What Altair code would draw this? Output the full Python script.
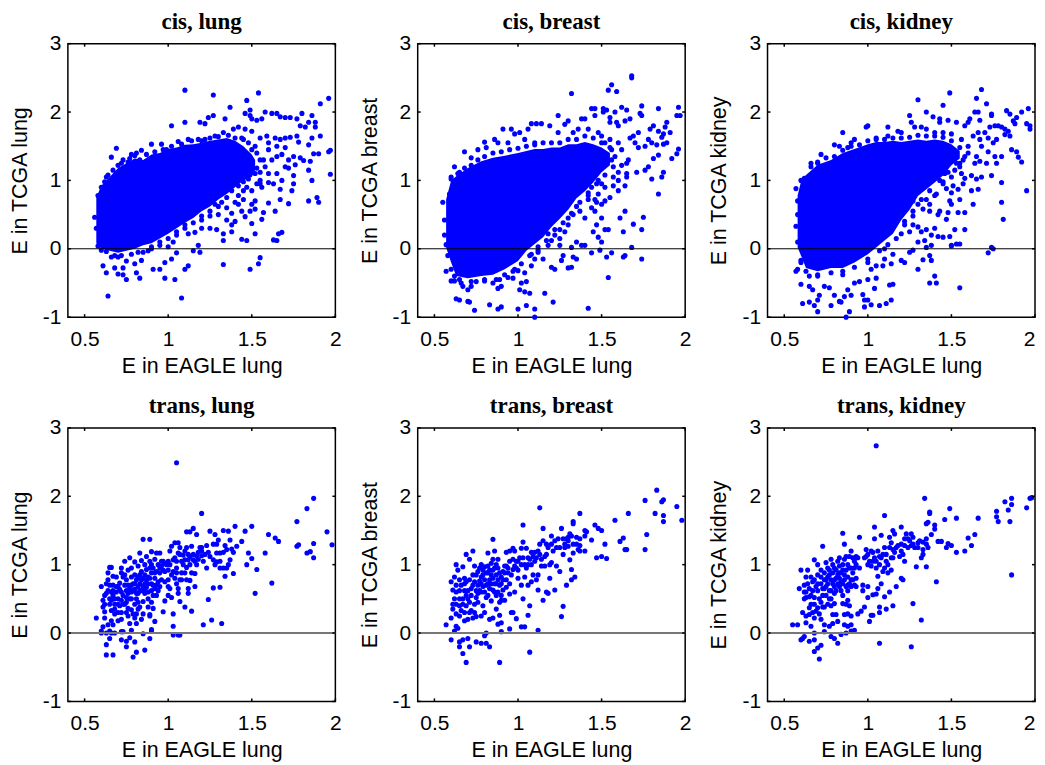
import altair as alt
import pandas as pd

BLUE = "#0000FF"
x_ticks = [0.5, 1, 1.5, 2]
y_ticks = [-1, 0, 1, 2, 3]

core_lung = [(.57,.08,.75),(.6,.0,.92),(.65,-.03,1.05),(.7,-.06,1.18),(.75,-.03,1.25),(.8,.0,1.32),(.85,.05,1.3),(.9,.08,1.38),(.95,.15,1.4),(1.0,.22,1.46),(1.05,.3,1.48),(1.1,.38,1.52),(1.15,.45,1.53),(1.2,.55,1.55),(1.25,.62,1.58),(1.3,.72,1.6),(1.35,.8,1.62),(1.4,.9,1.58),(1.45,1.0,1.5),(1.5,1.05,1.38),(1.52,1.15,1.3)]
core_breast = [(.57,.02,.72),(.6,-.2,1.0),(.63,-.4,1.06),(.7,-.43,1.18),(.78,-.4,1.28),(.85,-.38,1.33),(.92,-.3,1.36),(1.0,-.18,1.4),(1.05,-.03,1.43),(1.1,.07,1.46),(1.15,.17,1.46),(1.2,.32,1.48),(1.25,.44,1.48),(1.3,.57,1.53),(1.35,.74,1.53),(1.4,.84,1.56),(1.45,.97,1.53),(1.5,1.12,1.48),(1.55,1.22,1.4)]
core_kidney = [(.58,.02,.78),(.6,-.1,.98),(.63,-.28,1.08),(.7,-.33,1.23),(.78,-.28,1.3),(.85,-.28,1.4),(.92,-.2,1.46),(1.0,-.08,1.53),(1.05,.02,1.56),(1.1,.12,1.56),(1.15,.22,1.58),(1.2,.42,1.56),(1.25,.57,1.58),(1.3,.77,1.6),(1.35,.87,1.58),(1.4,.97,1.6),(1.45,1.07,1.58),(1.5,1.22,1.53),(1.55,1.32,1.43)]

cis_lung = [(1.1,2.32),(1.27,2.25),(1.54,2.28),(1.47,2.17),(1.96,2.2),(1.91,2.12),(1.37,2.07),(1.49,2.03),(1.46,1.98),(1.49,1.95),(1.27,1.95),(1.24,1.92),(1.34,1.9),(1.1,1.85),(1.19,1.85),(1.22,1.83),(1.02,1.8),(1.5,1.9),(1.53,1.88),(1.56,1.9),(1.58,2.0),(1.62,1.98),(1.65,1.98),(1.67,1.93),(1.7,1.92),(1.73,1.92),(1.77,1.9),(1.8,1.98),(1.86,1.95),(1.79,1.8),(1.82,1.78),(1.84,1.85),(1.88,1.85),(1.88,1.78),(1.91,1.65),(1.84,1.52),(1.86,1.62),(1.77,1.65),(1.78,1.56),(1.7,1.62),(1.73,1.63),(1.67,1.6),(1.64,1.62),(1.59,1.65),(1.6,1.55),(1.96,1.42),(1.97,1.44),(1.97,1.09),(1.87,1.39),(1.9,1.39),(1.85,1.28),(1.81,1.29),(1.79,1.33),(1.84,1.15),(1.86,1.0),(1.75,1.07),(1.75,.95),(1.74,.85),(1.84,.7),(1.89,.75),(1.9,.68),(1.72,.66),(1.67,.72),(1.67,.87),(1.6,.97),(1.63,.95),(1.68,1.0),(1.72,1.18),(1.76,1.23),(1.55,1.0),(1.56,.9),(1.6,.67),(1.64,.55),(1.57,.53),(1.56,.43),(1.5,.37),(1.52,.22),(1.47,.12),(1.44,.14),(1.63,.13),(1.65,.12),(1.66,.22),(1.68,.24),(1.55,-.13),(1.54,-.22),(1.49,-.3),(1.33,-.23),(1.12,-.25),(1.1,-.3),(1.08,-.72),(1.04,-.45),(.98,-.43),(1.02,-.15),(.98,-.2),(1.05,-.06),(.95,-.3),(.91,-.3),(.83,-.43),(.81,-.35),(.75,-.45),(.73,-.38),(.7,-.37),(.68,-.28),(.63,-.35),(.61,-.25),(.64,-.69),(.73,-.28),(.75,-.18),(.8,-.22),(.84,-.17),(.88,-.03),(.7,-.12),(.66,-.12),(.69,1.47),(.66,1.34),(.63,1.05),(.72,1.25),(.76,1.27),(.78,1.38),(.81,1.4),(.84,1.44),(.9,1.53),(.96,1.53),(.99,1.45),(1.06,1.57),(1.12,1.6),(1.18,1.6),(1.22,1.6),(1.33,1.7),(1.28,1.65),(1.42,1.78),(1.39,1.75),(1.46,1.75),(1.5,1.72),(1.55,1.62),(1.3,.5),(1.35,.42),(1.38,.35),(1.4,.4),(1.29,.28),(1.33,.22),(1.33,.12),(1.38,.25),(1.25,.3),(1.2,.3),(1.16,.24),(1.12,.22),(1.18,.05),(1.15,-.03),(1.19,-.05),(1.03,.1),(1,.03),(1.38,.52),(1.42,.65),(1.44,.55),(1.46,.47),(1.49,.55),(1.5,.65),(1.52,.58),(1.52,.7),(1.45,.72),(1.42,.78),(1.47,.9),(1.5,.85),(1.53,.95),(1.6,1.1),(1.65,1.1),(1.62,1.3),(1.65,1.35),(1.68,1.38),(1.7,1.48),(1.65,1.5),(1.6,1.45),(1.57,1.3),(1.53,1.18),(1.55,1.12),(1.72,1.3),(1.75,1.35),(1.7,1.2),(1.58,1.2),(1.55,.95),(1.45,1.6),(1.52,1.5),(1.45,.85),(1.4,.68),(1.35,.6),(1.3,.62),(1.25,.48),(1.2,.42),(1.1,.3),(1.05,.2),(.95,.05),(.9,.0),(.85,-.05),(.57,.3),(.56,.46),(.58,.78),(.6,.9),(.58,.04),(.6,-.02)]
edge_lung = [(.62,.98),(.64,1.08),(.67,1.15),(.7,1.22),(.73,1.3),(.77,1.32),(.8,1.36),(.83,1.3),(.87,1.38),(.92,1.42),(.97,1.45),(1.02,1.5),(1.08,1.53),(1.14,1.58),(1.2,1.58),(1.25,1.62),(1.3,1.64),(1.36,1.66),(1.4,1.62),(1.44,1.62),(1.48,1.55),(1.5,1.45),(1.53,1.4),(1.55,1.3),(1.52,1.1),(1.48,1.02),(1.45,.98),(1.42,.92),(1.38,.85),(1.35,.75),(1.32,.68),(1.28,.65),(1.25,.55),(1.2,.48),(1.15,.38),(1.1,.35),(1.05,.25),(1,.15),(.95,.1),(.9,.03),(.82,-.05),(.78,-.08),(.72,-.1),(.68,-.1),(.63,-.04)]

cis_breast = [(1.68,2.53),(1.68,2.5),(1.56,2.4),(1.54,2.32),(1.59,2.3),(1.32,2.27),(1.74,2.09),(1.62,2.07),(1.65,2.03),(1.96,2.07),(1.95,1.95),(1.97,1.95),(1.84,2.05),(1.44,2.05),(1.46,2.05),(1.51,2.05),(1.53,2.03),(1.51,2.0),(1.58,2.0),(1.55,1.92),(1.55,1.85),(1.73,1.98),(1.74,1.95),(1.67,1.9),(1.64,1.87),(1.59,1.85),(1.6,1.8),(1.46,1.95),(1.4,1.9),(1.38,1.9),(1.24,1.95),(1.3,1.87),(1.28,1.82),(1.24,1.7),(1.19,1.8),(1.14,1.83),(1.11,1.83),(1.08,1.83),(1.06,1.75),(1.01,1.7),(.96,1.75),(.91,1.75),(.98,1.68),(.86,1.6),(.88,1.55),(.8,1.56),(.68,1.42),(.62,1.2),(.6,1.05),(.72,1.33),(.76,1.45),(.81,1.48),(.94,1.55),(1.04,1.6),(1.1,1.55),(1.89,1.85),(1.88,1.78),(1.84,1.72),(1.87,1.68),(1.91,1.7),(1.86,1.63),(1.89,1.55),(1.87,1.53),(1.81,1.8),(1.79,1.75),(1.78,1.6),(1.72,1.7),(1.69,1.65),(1.67,1.62),(1.7,1.55),(1.72,1.48),(1.76,1.5),(1.8,1.55),(1.83,1.52),(1.96,1.46),(1.95,1.39),(1.92,1.32),(1.84,1.37),(1.81,1.32),(1.78,1.2),(1.76,1.15),(1.8,1.02),(1.87,1.12),(1.86,1.05),(1.84,.8),(1.71,1.12),(1.65,1.1),(1.64,.92),(1.6,1.0),(1.6,.85),(1.57,.92),(1.55,.75),(1.52,.7),(1.5,.65),(1.74,.28),(1.75,.46),(1.69,.36),(1.64,.55),(1.61,.45),(1.63,.25),(1.68,.02),(1.74,-.15),(1.63,-.12),(1.64,-.1),(1.56,-.06),(1.53,-.12),(1.54,-.42),(1.42,-.87),(1.21,-.78),(1.16,-.65),(1.1,-.88),(1.1,-1.0),(1.05,-.83),(1,-.88),(.9,-.85),(.88,-.88),(.83,-.82),(.74,-.9),(.7,-.77),(.71,-.78),(.63,-.73),(.65,-.75),(1.04,-.63),(1.01,-.6),(1.07,-.65),(1.22,-.3),(1.2,-.27),(1.15,-.15),(1.08,-.25),(1.05,-.48),(1.02,-.5),(1.04,-.35),(.97,-.43),(.9,-.55),(.89,-.45),(.88,-.58),(.8,-.47),(.72,-.55),(.7,-.6),(.67,-.55),(.66,-.5),(.6,-.47),(.57,-.33),(.62,-.47),(.98,-.3),(1.1,-.15),(1.12,-.05),(1.27,-.1),(1.3,-.28),(1.32,-.27),(1.33,-.12),(1.35,-.15),(1.26,-.17),(1.44,-.06),(1.49,-.02),(1.5,.1),(1.48,.17),(1.52,.28),(1.54,.28),(1.45,.25),(1.47,.35),(1.5,.45),(1.46,.55),(1.44,.6),(1.4,.45),(1.37,.55),(1.33,.5),(1.3,.35),(1.28,.25),(1.35,.1),(1.38,.05),(1.32,.02),(1.4,.05),(1.25,.15),(1.22,.2),(1.25,.05),(1.18,.22),(1.18,.05),(1.48,.8),(1.46,.72),(1.47,.68),(1.42,.72),(1.44,.9),(1.5,.95),(1.52,.9),(1.57,1.05),(1.6,1.12),(1.65,1.05),(1.62,1.22),(1.65,1.25),(1.66,1.3),(1.62,1.45),(1.6,1.55),(1.55,1.6),(1.5,1.65),(1.48,1.7),(1.42,1.75),(1.36,1.75),(1.33,1.7),(1.52,1.55),(1.56,1.45),(1.56,1.3),(.55,.68),(.56,.42),(.56,.2),(.57,.06),(.58,-.1),(.59,.8),(.65,1.12),(1.12,-.02),(1.08,-.08),(1.0,-.32),(.94,-.42),(.85,-.5),(.75,-.48),(1.2,.12),(1.25,.28),(1.3,.45),(1.35,.62),(1.42,.82),(1.48,1.0)]
edge_breast = [(.6,1.02),(.64,1.1),(.68,1.18),(.72,1.22),(.76,1.3),(.8,1.35),(.85,1.4),(.9,1.42),(.95,1.45),(1,1.47),(1.05,1.5),(1.1,1.52),(1.15,1.55),(1.2,1.55),(1.25,1.55),(1.3,1.6),(1.35,1.6),(1.4,1.65),(1.45,1.62),(1.5,1.55),(1.55,1.48),(1.58,1.35),(1.57,1.2),(1.52,1.08),(1.47,.95),(1.42,.78),(1.37,.68),(1.32,.52),(1.27,.38),(1.22,.28),(1.17,.12),(1.12,.03),(1.07,-.1),(1.02,-.22),(.97,-.33),(.92,-.38),(.87,-.45),(.8,-.45),(.72,-.48),(.65,-.45),(.6,-.3),(.62,-.4)]

cis_kidney = [(1.68,2.33),(1.49,2.28),(1.65,2.2),(1.3,2.18),(1.71,2.12),(1.45,2.1),(1.35,2.0),(1.25,1.95),(1.39,1.93),(1.43,1.9),(1.43,1.85),(1.48,1.88),(1.53,1.85),(1.26,1.85),(1.58,1.8),(1.64,2.0),(1.66,2.0),(1.67,1.88),(1.6,1.85),(1.61,1.9),(1.74,1.97),(1.74,1.95),(1.83,2.02),(1.85,1.97),(1.89,1.92),(1.92,2.0),(1.96,2.05),(1.87,1.87),(1.88,1.83),(1.95,1.83),(1.97,1.8),(1.97,1.75),(1.76,1.8),(1.73,1.78),(1.78,1.8),(1.8,1.78),(1.82,1.75),(1.84,1.72),(1.85,1.65),(1.82,1.67),(1.7,1.7),(1.66,1.7),(1.63,1.65),(1.67,1.6),(1.72,1.62),(1.75,1.55),(1.77,1.6),(1.86,1.45),(1.89,1.42),(1.9,1.34),(1.92,1.27),(1.95,.85),(1.81,.43),(1.8,.68),(1.8,.97),(1.74,1.07),(1.71,1.25),(1.76,1.35),(1.77,1.25),(1.8,1.35),(1.72,1.42),(1.68,1.5),(1.65,1.35),(1.67,1.28),(1.64,1.25),(1.68,1.05),(1.65,1.02),(1.66,.87),(1.62,.85),(1.62,1.07),(1.58,1.03),(1.56,1.1),(1.57,.95),(1.54,.87),(1.51,.92),(1.5,.82),(1.47,.88),(1.49,.7),(1.5,.65),(1.55,.72),(1.63,.65),(1.58,.53),(1.54,.53),(1.48,.53),(1.47,.43),(1.58,.28),(1.52,.28),(1.49,.18),(1.55,.07),(1.53,.07),(1.5,.04),(1.5,.05),(1.72,-.06),(1.74,.02),(1.75,0.0),(1.55,-.57),(1.37,-.5),(1.4,-.4),(1.41,-.5),(1.3,-.3),(1.38,-.17),(1.37,-.1),(1.33,-.16),(1.2,-.17),(1.22,-.2),(1.13,-.53),(1.15,-.52),(1.14,-.75),(1.11,-.8),(1.07,-.83),(1.02,-.82),(.98,-.75),(1.0,-.75),(.98,-.85),(.97,-.67),(1.04,-.58),(1.0,-.45),(1.05,-.43),(.89,-.92),(.87,-1.0),(.83,-.77),(.84,-.78),(.78,-.83),(.7,-.92),(.68,-.83),(.65,-.78),(.61,-.8),(.6,-.52),(.65,-.55),(.67,-.6),(.71,-.68),(.7,-.75),(.74,-.55),(.77,-.57),(.8,-.68),(.86,-.7),(.88,-.6),(.9,-.68),(.92,-.5),(.95,-.48),(1.02,-.3),(1.05,-.25),(1.09,-.25),(1.1,-.15),(1.14,-.22),(1.15,-.08),(.57,-.33),(.58,-.3),(.65,-.4),(1.25,-.05),(1.27,-.02),(1.3,.1),(1.34,.12),(1.32,.25),(1.3,.32),(1.27,.35),(1.22,.35),(1.25,.25),(1.35,.28),(1.38,.2),(1.4,.3),(1.42,.18),(1.45,.17),(1.38,.05),(1.35,.02),(1.42,.5),(1.43,.55),(1.37,.55),(1.33,.58),(1.3,.65),(1.27,.7),(1.37,.65),(1.4,.78),(1.41,.8),(1.45,.95),(1.5,1.05),(1.52,1.15),(1.46,1.1),(1.55,1.2),(1.57,1.3),(1.6,1.4),(1.6,1.5),(1.56,1.6),(1.5,1.68),(1.45,1.7),(1.4,1.7),(1.35,1.75),(1.32,1.78),(1.28,1.78),(1.2,1.7),(1.18,1.72),(1.12,1.78),(1.12,1.65),(1.05,1.62),(.99,1.78),(1.0,1.8),(.92,1.6),(.9,1.55),(.85,1.7),(.88,1.48),(.83,1.5),(.8,1.52),(.72,1.38),(.7,1.25),(.66,1.25),(.62,1.03),(.57,.88),(.58,.5),(.57,.33),(.58,.7),(.58,.1),(.6,-.2),(.7,-.4),(.85,-.38),(1.0,-.2),(1.1,.0),(1.2,.22),(1.27,.48),(1.35,.72),(1.45,.98),(1.53,1.25)]
edge_kidney = [(.6,1.0),(.63,1.03),(.66,1.2),(.7,1.27),(.75,1.33),(.8,1.35),(.85,1.44),(.9,1.5),(.95,1.52),(1,1.58),(1.05,1.6),(1.1,1.6),(1.15,1.62),(1.2,1.62),(1.25,1.63),(1.3,1.66),(1.35,1.65),(1.4,1.65),(1.45,1.63),(1.5,1.58),(1.55,1.48),(1.58,1.35),(1.55,1.25),(1.48,1.12),(1.43,1.0),(1.37,.85),(1.32,.72),(1.27,.55),(1.22,.4),(1.17,.15),(1.12,.06),(1.07,-.03),(1.0,-.15),(.92,-.27),(.85,-.33),(.78,-.35),(.7,-.38),(.63,-.33),(.6,-.17)]

trans_lung = [(1.05,2.49),(1.2,1.75),(1.87,1.97),(1.83,1.82),(1.77,1.63),(1.95,1.48),(1.98,1.29),(1.87,1.31),(1.78,1.29),(1.77,1.27),(1.85,1.19),(1.83,1.17),(1.87,1.1),(1.66,1.34),(1.64,1.39),(1.6,1.44),(1.58,1.17),(1.5,1.56),(1.46,1.49),(1.4,1.56),(1.48,1.17),(1.5,1.09),(1.47,1.0),(1.53,.93),(1.62,.73),(1.52,.58),(1.32,.14),(1.26,.19),(1.21,.12),(1.24,.49),(1.27,.66),(1.31,.67),(1.34,.83),(1.39,.87),(1.44,1.34),(1.41,1.27),(1.37,1.36),(1.39,1.18),(1.33,1.5),(1.36,1.49),(1.25,1.49),(1.28,1.44),(1.15,1.53),(1.13,1.48),(1.11,1.48),(1.17,1.44),(1.3,1.36),(1.29,1.3),(1.27,1.3),(1.23,1.28),(1.34,1.28),(1.38,1.23),(1.35,1.22),(1.33,1.18),(1.31,1.17),(1.29,1.17),(1.37,1.07),(1.36,1.0),(1.31,1.05),(1.29,1.04),(1.27,1.07),(1.28,1.0),(1.33,.95),(1.31,.95),(1.35,.95),(1.23,.95),(1.2,1.25),(1.2,1.2),(1.2,1.13),(1.21,1.05),(1.17,1.0),(1.16,1.05),(1.15,1.15),(1.14,1.27),(1.11,1.25),(1.1,1.2),(1.09,1.14),(1.07,1.25),(1.04,1.32),(1.06,1.32),(1.02,1.27),(1.01,1.2),(1.04,1.1),(1.07,1.15),(1.12,1.07),(1.13,1.0),(1.11,.96),(1.14,.88),(1.16,.87),(1.13,.77),(1.11,.78),(1.16,.68),(1.12,.65),(1.12,.58),(1.1,.38),(1.14,.32),(1.07,.46),(1.06,.58),(1.06,.65),(1.05,.72),(1.04,.8),(1.02,.85),(1.07,.78),(1.08,.88),(1.05,.95),(1.0,.92),(1.0,.78),(.98,.75),(1.01,.65),(1.0,.55),(.98,.47),(1.02,.52),(1.03,.28),(1.03,.1),(1.03,-.03),(1.07,-.03),(1.06,-.03),(.97,.31),(.92,.17),(.89,.27),(.9,.05),(.9,.03),(.89,-.08),(.85,-.01),(.86,-.25),(.81,-.28),(.8,-.13),(.79,-.35),(.75,-.2),(.75,-.12),(.77,-.07),(.72,-.1),(.67,-.32),(.63,-.32),(.63,-.17),(.65,-.08),(.6,.03),(.6,.0),(.61,.09),(.63,.0),(.65,.03),(.66,.0),(.68,.0),(.72,.02),(.73,.02),(.78,.04),(.57,.22),(.6,.68),(.62,.22),(.61,.48),(.61,.38),(.62,.31),(.63,.58),(.63,.72),(.64,.88),(.65,.96),(.66,.96),(.65,.5),(.65,.42),(.64,.12),(.67,.83),(.67,.7),(.67,.62),(.67,.55),(.66,.18),(.67,.12),(.68,.35),(.69,.82),(.69,.68),(.69,.6),(.7,.5),(.7,.3),(.7,.18),(.71,.73),(.71,.64),(.71,.4),(.72,.95),(.72,.88),(.72,.6),(.72,.2),(.73,.55),(.74,.85),(.74,1.05),(.74,.7),(.74,.42),(.75,.3),(.75,.62),(.76,.92),(.76,.58),(.77,1.1),(.77,.5),(.77,.14),(.78,.95),(.78,.7),(.78,.6),(.78,.34),(.8,1.04),(.8,.85),(.8,.64),(.8,.42),(.8,.22),(.81,.5),(.81,.28),(.81,.14),(.82,.98),(.82,.82),(.82,.58),(.83,1.17),(.83,.72),(.83,.38),(.84,1.06),(.84,.9),(.84,.62),(.84,.2),(.85,1.37),(.85,.8),(.85,.46),(.85,.28),(.86,1.0),(.86,.72),(.86,.58),(.87,1.12),(.87,.93),(.87,.67),(.88,.82),(.88,.5),(.88,.38),(.89,1.37),(.89,1.05),(.89,.25),(.9,1.19),(.9,.88),(.9,.72),(.9,.62),(.9,.45),(.91,.95),(.91,.36),(.92,1.08),(.92,.8),(.92,.65),(.93,1.17),(.93,.9),(.93,.55),(.94,1.0),(.94,.75),(.95,1.17),(.95,.88),(.96,.78),(.96,.98),(.97,1.05),(.98,.9),(.99,1.0)]
more_trans_lung = [(.62,.55),(.62,.42),(.64,.62),(.64,.78),(.65,.7),(.66,.6),(.66,.48),(.66,.33),(.68,.5),(.68,.42),(.68,.28),(.7,.68),(.7,.42),(.72,.48),(.72,.3),(.73,.42),(.73,.82),(.75,.52),(.75,.45),(.75,.78),(.76,.7),(.76,.36),(.76,.25),(.77,.65),(.78,.5),(.78,.82),(.79,.62),(.79,.72),(.79,.28),(.8,.72),(.81,.58),(.81,.78),(.82,.68),(.82,.45),(.82,.35),(.83,.62),(.83,.85),(.84,.78),(.85,.68),(.86,.85),(.86,.65),(.87,.78),(.88,.6),(.88,.72),(.89,.8),(.89,.95),(.9,1.0),(.91,.7),(.91,.55),(.92,.88),(.93,.7),(.94,.62),(.95,.95),(.96,1.05),(.97,.92),(.98,1.02),(1.0,1.05),(1.01,1.0),(1.03,1.07),(1.05,1.05),(1.06,1.17),(1.08,1.05),(1.09,1.0),(1.1,1.07),(1.12,1.15),(1.13,1.12),(1.15,1.07),(1.17,1.13),(1.18,1.08),(1.18,1.18),(1.19,1.25),(1.22,1.15),(1.24,1.18),(1.25,1.12),(1.05,.88),(1.03,.9),(1.1,.88),(1.08,.78),(.95,.68),(1.0,.68)]

trans_breast = [(1.13,1.83),(1.83,2.09),(1.76,1.94),(1.86,1.92),(1.87,1.95),(1.95,1.85),(1.98,1.65),(1.82,1.75),(1.87,1.72),(1.87,1.63),(1.66,1.75),(1.58,1.65),(1.37,1.75),(1.33,1.63),(1.33,1.6),(1.46,1.58),(1.48,1.53),(1.5,1.5),(1.4,1.5),(1.41,1.48),(1.77,1.44),(1.76,1.22),(1.63,1.39),(1.61,1.34),(1.64,1.22),(1.52,1.3),(1.44,1.36),(1.4,1.42),(1.37,1.38),(1.35,1.4),(1.31,1.45),(1.26,1.53),(1.15,1.53),(1.03,1.58),(.85,1.37),(.73,1.2),(.69,1.15),(.71,1.08),(.63,1.0),(.6,.75),(.57,.12),(.6,.22),(.6,-.1),(.62,.03),(.63,.1),(.64,.07),(.65,-.13),(.65,-.2),(.67,-.1),(.67,-.3),(.69,-.43),(.71,-.2),(.7,-.08),(.75,-.13),(.78,-.15),(.81,-.15),(.83,-.2),(.89,-.43),(1.07,-.28),(.8,-.04),(.81,.0),(.9,.02),(.95,.06),(.88,.13),(.9,.15),(.89,.26),(.96,.3),(.97,.3),(.99,.21),(1.02,.09),(1.04,.09),(1.12,.04),(1.06,.26),(1.07,.4),(1.03,.5),(.98,.6),(.95,.57),(.93,.67),(.92,.48),(.9,.48),(.87,.35),(.83,.2),(.85,.22),(.8,.3),(.78,.25),(.75,.24),(.73,.22),(.7,.2),(.68,.18),(.65,.25),(.63,.28),(.61,.35),(.61,.42),(.62,.5),(.61,.63),(.63,.7),(.62,.82),(.64,.92),(.65,.78),(.67,.97),(.68,.8),(.68,.72),(.7,.62),(.7,.5),(.69,.4),(.72,.33),(.72,.55),(.73,.7),(.73,.85),(.74,.98),(.75,.62),(.76,.45),(.76,.9),(.77,.76),(.78,1.0),(.78,.6),(.79,.4),(.79,.85),(.8,.97),(.81,.7),(.82,.55),(.82,1.17),(.82,.88),(.83,.78),(.84,.47),(.84,1.02),(.85,.63),(.85,.92),(.86,1.2),(.86,.72),(.87,.85),(.87,.55),(.88,.95),(.88,1.08),(.89,.7),(.89,.45),(.9,.82),(.91,.63),(.91,.9),(.92,.98),(.93,.78),(.93,1.18),(.94,.88),(.95,1.2),(.95,.72),(.97,.93),(.97,1.24),(.98,1.2),(.99,1.05),(.99,.95),(1.0,.8),(1.02,.7),(1.01,1.1),(1.02,1.24),(1.03,1.33),(1.05,1.24),(1.06,1.1),(1.05,.95),(1.04,.82),(1.06,.7),(1.08,.75),(1.09,.85),(1.08,1.0),(1.08,1.18),(1.1,1.05),(1.11,.78),(1.12,.63),(1.12,.85),(1.12,1.2),(1.13,1.3),(1.14,1.08),(1.15,1.35),(1.15,.48),(1.17,1.15),(1.16,.98),(1.18,1.25),(1.18,.58),(1.17,.6),(1.19,.8),(1.2,1.42),(1.2,1.03),(1.21,1.2),(1.22,1.35),(1.23,.98),(1.22,.63),(1.25,.9),(1.24,1.38),(1.27,1.15),(1.28,1.25),(1.29,1.38),(1.26,.24),(1.27,.39),(1.29,.7),(1.32,.78),(1.32,.93),(1.34,.82),(1.31,1.07),(1.33,1.17),(1.3,1.27),(1.33,1.3),(1.37,1.28),(1.37,1.2),(1.4,1.2),(1.47,1.1),(1.5,1.12),(1.53,1.09),(1.65,1.22)]
more_trans_breast = [(.63,.6),(.63,.42),(.65,.62),(.65,.5),(.65,.4),(.66,.7),(.66,.33),(.67,.5),(.67,.42),(.68,.62),(.68,.3),(.69,.75),(.69,.55),(.71,.78),(.71,.45),(.71,.3),(.72,.65),(.74,.75),(.74,.42),(.74,.3),(.75,.85),(.75,.52),(.76,.7),(.76,.58),(.77,.95),(.77,.62),(.78,.72),(.78,.82),(.79,.92),(.79,.68),(.8,.78),(.8,.6),(.81,.88),(.81,.52),(.82,.98),(.82,.72),(.83,.65),(.83,.92),(.84,.85),(.84,.72),(.85,.8),(.85,1.08),(.86,.95),(.86,.6),(.87,.72),(.87,1.0),(.88,.78),(.88,.6),(.89,.88),(.9,.72),(.9,.55),(.91,.78),(.92,.88),(.93,.98),(.94,.95),(.95,1.05),(.96,.85),(.97,1.08),(.98,.98),(1.0,1.05),(1.0,.92),(1.02,1.0),(1.03,1.1),(1.04,1.0),(1.06,1.0),(1.07,1.08),(1.09,1.12),(1.1,1.18),(1.11,1.1),(1.13,1.15),(1.14,.98),(1.16,1.12),(1.17,1.3),(1.19,1.0),(1.2,1.3),(1.23,1.25),(1.25,1.25),(1.27,1.38),(1.28,1.3),(1.3,1.35),(1.3,1.4),(1.32,1.42),(1.35,1.3),(1.36,1.22)]

trans_kidney = [(1.05,2.74),(1.34,1.97),(1.86,1.97),(1.97,1.97),(1.98,1.98),(1.82,1.92),(1.95,1.83),(1.86,1.88),(1.84,1.8),(1.77,1.78),(1.77,1.7),(1.78,1.63),(1.85,1.63),(1.66,1.68),(1.53,1.68),(1.49,1.82),(1.46,1.66),(1.37,1.77),(1.37,1.75),(1.36,1.62),(1.35,1.6),(1.4,1.58),(1.4,1.52),(1.38,1.44),(1.35,1.38),(1.42,1.34),(1.44,1.34),(1.47,1.25),(1.48,1.31),(1.5,1.28),(1.53,1.18),(1.58,1.2),(1.62,1.28),(1.6,1.39),(1.64,1.44),(1.86,.85),(1.41,.75),(1.35,.97),(1.29,.97),(1.32,1.1),(1.33,1.15),(1.3,1.25),(1.33,1.33),(1.36,1.25),(1.31,1.35),(1.27,1.3),(1.25,1.35),(1.26,1.45),(1.23,1.45),(1.2,1.55),(1.15,1.5),(1.16,1.45),(1.13,1.4),(1.04,1.55),(1.1,1.72),(1.08,1.43),(1.04,1.38),(.95,1.4),(.85,1.46),(.86,1.3),(.73,1.27),(.68,1.07),(.7,1.0),(.6,.92),(.59,.65),(.62,.7),(.63,.82),(.64,.92),(.63,.6),(.62,.5),(.61,.3),(.63,.25),(.55,.12),(.58,.12),(.6,-.1),(.61,-.08),(.62,-.05),(.65,-.12),(.68,-.1),(.68,-.27),(.7,-.22),(.71,-.38),(.72,-.18),(.68,.0),(.74,.02),(.78,-.05),(.8,-.08),(.82,-.15),(.84,-.02),(.87,.0),(.9,.03),(.92,.04),(.86,.12),(.88,.1),(.9,.12),(.86,.27),(.88,.28),(.9,.25),(.89,.4),(.87,.42),(.85,.43),(.85,.55),(.88,.48),(.81,.27),(.79,.27),(.82,.17),(.79,.14),(.77,.1),(.74,.12),(.72,.2),(.68,.22),(.65,.27),(.63,.15),(.66,.1),(.67,.3),(.7,.37),(.72,.45),(.74,.38),(.76,.42),(.78,.5),(.8,.43),(.65,.37),(.65,.53),(.67,.62),(.68,.78),(.7,.85),(.72,.92),(.73,.55),(.74,.65),(.75,.78),(.75,1.03),(.76,.95),(.77,.62),(.77,.85),(.78,1.08),(.79,.72),(.8,.58),(.8,.95),(.81,.8),(.82,1.05),(.83,.68),(.83,.88),(.84,.75),(.85,1.0),(.86,.85),(.87,1.12),(.88,.62),(.88,.7),(.89,.95),(.9,1.2),(.9,.78),(.91,.88),(.92,1.05),(.93,.68),(.93,.8),(.94,1.1),(.95,.95),(.97,.7),(.97,.62),(.99,1.22),(.98,1.1),(1.0,1.0),(1.0,.68),(1.0,.52),(.98,.38),(.96,.32),(.94,.28),(1.02,.26),(1.03,.26),(1.01,.17),(1.05,.57),(1.03,.56),(1.06,.65),(1.07,.3),(1.07,.38),(1.07,-.15),(1.11,.35),(1.15,.4),(1.13,.6),(1.1,.53),(1.17,.68),(1.2,.8),(1.21,.78),(1.27,.43),(1.32,.19),(1.26,-.2),(1.02,1.2),(1.03,1.05),(1.05,.95),(1.06,.83),(1.08,.72),(1.09,.9),(1.07,1.12),(1.1,1.25),(1.11,1.05),(1.12,.88),(1.14,.92),(1.14,1.1),(1.15,1.22),(1.17,1.25),(1.19,1.12),(1.2,1.3),(1.22,1.05),(1.22,1.38),(1.24,1.25),(1.26,1.28)]
more_trans_kidney = [(.62,.6),(.63,.52),(.64,.72),(.65,.65),(.66,.82),(.66,.55),(.66,.42),(.67,.75),(.68,.52),(.68,.42),(.69,.68),(.69,.32),(.7,.62),(.7,.72),(.71,.5),(.71,.28),(.72,.82),(.72,.72),(.73,.65),(.73,.38),(.74,.88),(.74,.78),(.75,.55),(.75,.68),(.76,.72),(.76,.82),(.77,.5),(.77,.92),(.78,.62),(.78,.78),(.78,.4),(.79,.88),(.79,1.0),(.8,.68),(.8,.78),(.81,.62),(.81,.92),(.82,.72),(.82,.85),(.83,.8),(.83,.98),(.83,1.1),(.84,.62),(.84,.88),(.85,.72),(.85,.92),(.86,.78),(.86,1.08),(.87,.68),(.87,.92),(.88,.82),(.88,1.0),(.89,.72),(.89,1.12),(.9,.95),(.9,.68),(.91,.78),(.91,1.1),(.92,.95),(.92,.7),(.93,1.0),(.93,1.12),(.99,1.12),(1.0,1.15),(1.01,1.05),(1.02,.98),(1.03,1.18),(1.04,1.1),(1.05,1.05),(1.06,1.2),(1.07,1.0),(1.08,1.1),(1.09,1.15),(1.1,.95),(1.11,1.15),(1.12,1.0),(1.13,1.25),(1.14,1.32),(1.15,1.1),(1.16,1.18),(1.18,1.28),(1.2,1.2),(1.21,1.15),(1.22,1.28),(1.24,1.38),(1.27,1.4),(1.28,1.25),(1.3,1.32),(1.33,1.22),(1.35,1.3)]

def panel(title, ylabel, points, core, rule_color, rule_width, flush=False):
    xs = alt.Scale(domain=[0.4, 2])
    ys = alt.Scale(domain=[-1, 3])
    df = pd.DataFrame(points, columns=["x", "y"])
    layers = []
    xax = alt.Axis(values=x_ticks, labelExpr="''+datum.value", title="E in EAGLE lung", ticks=False,
                   domain=False, grid=False, labelFontSize=21, titleFontSize=21.5, labelPadding=11,
                   titlePadding=6, labelFont="Liberation Sans", titleFont="Liberation Sans",
                   titleFontWeight="normal", labelColor="black", titleColor="black", labelFlush=flush)
    yax = alt.Axis(values=y_ticks, labelExpr="''+datum.value", title=ylabel, ticks=False,
                   domain=False, grid=False, labelFontSize=21, titleFontSize=21.5, labelPadding=7,
                   titlePadding=11, labelFont="Liberation Sans", titleFont="Liberation Sans",
                   titleFontWeight="normal", labelColor="black", titleColor="black")
    X = alt.X("x:Q", scale=xs, axis=xax)
    Y = alt.Y("y:Q", scale=ys, axis=yax)
    pts = alt.Chart(df).mark_point(filled=True, color=BLUE, size=26, opacity=1, shape="circle").encode(x=X, y=Y)
    if core:
        cdf = pd.DataFrame(core, columns=["x", "lo", "hi"])
        layers.append(alt.Chart(cdf).mark_area(color=BLUE, opacity=1).encode(
            x=X, y=alt.Y("lo:Q", scale=ys, axis=yax), y2="hi:Q"))
    layers.append(pts)
    layers.append(alt.Chart(pd.DataFrame({"y": [0]})).mark_rule(color=rule_color, strokeWidth=rule_width).encode(y=Y))
    xt = pd.DataFrame({"x": x_ticks})
    yt = pd.DataFrame({"y": y_ticks})
    for a, b in [(274, 271), (0, 3)]:
        layers.append(alt.Chart(xt).mark_rule(color="black", strokeWidth=1.5).encode(
            x=X, y=alt.value(a), y2=alt.value(b)))
    for a, b in [(0, 3), (268, 265)]:
        layers.append(alt.Chart(yt).mark_rule(color="black", strokeWidth=1.5).encode(
            y=Y, x=alt.value(a), x2=alt.value(b)))
    return alt.layer(*layers).properties(
        width=268, height=274,
        title=alt.TitleParams(title, font="Liberation Serif", fontSize=23, fontWeight="bold", color="black", offset=-1, anchor="middle"))

panels = [
    panel("cis, lung", "E in TCGA lung", cis_lung + edge_lung, core_lung, "black", 1),
    panel("cis, breast", "E in TCGA breast", cis_breast + edge_breast, core_breast, "black", 1),
    panel("cis, kidney", "E in TCGA kidney", cis_kidney + edge_kidney, core_kidney, "black", 1, True),
    panel("trans, lung", "E in TCGA lung", trans_lung + more_trans_lung, None, "#777777", 2),
    panel("trans, breast", "E in TCGA breast", trans_breast + more_trans_breast, None, "#777777", 2),
    panel("trans, kidney", "E in TCGA kidney", trans_kidney + more_trans_kidney, None, "#777777", 2, True),
]
chart = alt.concat(*panels, columns=3, spacing=alt.RowColnumber(row=111, column=82.5), bounds="flush").properties(
    padding={"left": 0, "top": 1, "right": 0, "bottom": 0}, background="white"
).configure_view(stroke="black", strokeWidth=1.5)
chart.save("out.html", embed_options={"renderer": "svg", "actions": False})
